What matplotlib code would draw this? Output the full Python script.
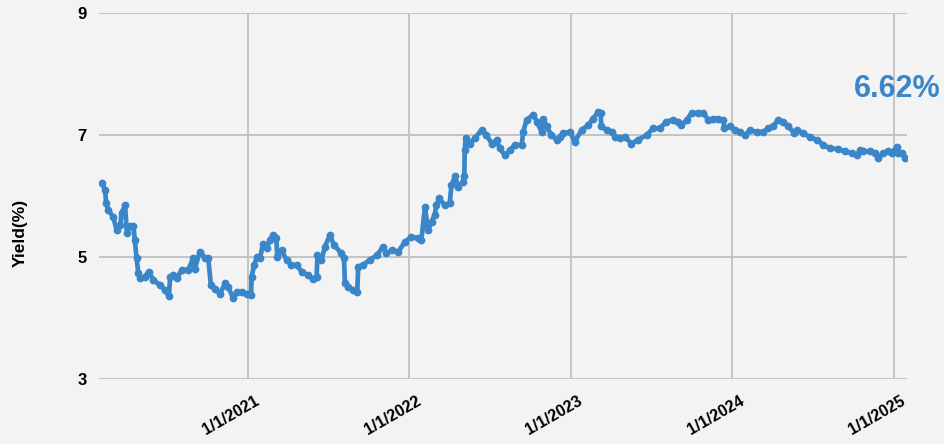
#import numpy and pandas to handle the data
import numpy as np
import pandas as pd

#import matplotlib to create plots
import matplotlib
matplotlib.use('Agg')
import matplotlib.pyplot as plt
import matplotlib.dates as mdates
import matplotlib.transforms as mtransforms

#yield readings (date, yield in %)
dates = [
    '2020-02-05', '2020-02-13', '2020-02-15', '2020-02-20', '2020-03-02', '2020-03-10',
    '2020-03-18', '2020-03-21', '2020-03-29', '2020-04-02', '2020-04-09', '2020-04-17',
    '2020-04-20', '2020-04-24', '2020-04-28', '2020-05-02', '2020-05-13', '2020-05-21',
    '2020-06-01', '2020-06-16', '2020-06-27', '2020-07-06', '2020-07-09', '2020-07-16',
    '2020-07-24', '2020-08-04', '2020-08-19', '2020-08-30', '2020-09-03', '2020-09-14',
    '2020-09-26', '2020-10-03', '2020-10-09', '2020-10-18', '2020-10-30', '2020-11-10',
    '2020-11-17', '2020-11-29', '2020-12-06', '2020-12-18', '2020-12-29',
    '2021-01-08', '2021-01-09', '2021-01-15', '2021-01-21', '2021-01-28', '2021-02-04',
    '2021-02-12', '2021-02-19', '2021-02-27', '2021-03-06', '2021-03-08', '2021-03-18',
    '2021-03-29', '2021-04-09', '2021-04-21', '2021-05-02', '2021-05-17', '2021-05-28',
    '2021-06-05', '2021-06-07', '2021-06-16', '2021-06-24', '2021-07-05', '2021-07-14',
    '2021-07-31', '2021-08-06', '2021-08-08', '2021-08-15', '2021-08-27', '2021-09-05',
    '2021-09-07', '2021-09-18', '2021-10-03', '2021-10-19', '2021-11-03', '2021-11-10',
    '2021-11-22', '2021-12-07', '2021-12-22',
    '2022-01-05', '2022-01-20', '2022-01-28', '2022-02-05', '2022-02-12', '2022-02-20',
    '2022-02-27', '2022-03-03', '2022-03-09', '2022-03-22', '2022-04-02', '2022-04-06',
    '2022-04-14', '2022-04-21', '2022-05-02', '2022-05-05', '2022-05-06', '2022-05-08',
    '2022-05-18', '2022-05-29', '2022-06-13', '2022-06-24', '2022-07-06', '2022-07-17',
    '2022-07-24', '2022-08-05', '2022-08-16', '2022-08-27', '2022-09-12', '2022-09-15',
    '2022-09-23', '2022-10-08', '2022-10-16', '2022-10-27', '2022-10-31', '2022-11-07',
    '2022-11-18', '2022-11-30', '2022-12-07', '2022-12-15', '2022-12-30',
    '2023-01-10', '2023-01-25', '2023-02-09', '2023-02-20', '2023-03-04', '2023-03-09',
    '2023-03-11', '2023-03-23', '2023-04-03', '2023-04-11', '2023-04-22', '2023-05-03',
    '2023-05-18', '2023-06-02', '2023-06-21', '2023-07-06', '2023-07-21', '2023-08-05',
    '2023-08-20', '2023-08-31', '2023-09-08', '2023-09-20', '2023-10-01', '2023-10-16',
    '2023-10-27', '2023-11-08', '2023-11-19', '2023-11-30', '2023-12-12', '2023-12-14',
    '2023-12-27',
    '2024-01-07', '2024-01-18', '2024-01-30', '2024-02-10', '2024-02-25', '2024-03-11',
    '2024-03-22', '2024-04-02', '2024-04-14', '2024-04-25', '2024-05-07', '2024-05-20',
    '2024-05-26', '2024-06-09', '2024-06-24', '2024-07-10', '2024-07-25', '2024-08-09',
    '2024-08-28', '2024-09-12', '2024-09-27', '2024-10-08', '2024-10-16', '2024-10-23',
    '2024-11-07', '2024-11-19', '2024-11-26', '2024-12-07', '2024-12-18', '2024-12-26',
    '2025-01-07', '2025-01-10', '2025-01-18', '2025-01-25',
]

yields = [
    6.21, 6.10, 5.88, 5.77, 5.66, 5.44,
    5.52, 5.72, 5.85, 5.39, 5.50, 5.50,
    5.28, 4.98, 4.73, 4.65, 4.68, 4.76,
    4.62, 4.54, 4.46, 4.36, 4.68, 4.70,
    4.65, 4.79, 4.79, 4.98, 4.81, 5.09,
    4.98, 4.98, 4.54, 4.48, 4.40, 4.57,
    4.51, 4.32, 4.43, 4.43, 4.40,
    4.38, 4.68, 4.87, 5.00, 4.98, 5.22,
    5.14, 5.28, 5.36, 5.31, 5.00, 5.11,
    4.95, 4.87, 4.87, 4.76, 4.70, 4.64,
    4.68, 5.03, 4.95, 5.17, 5.36, 5.20,
    5.06, 4.98, 4.57, 4.51, 4.46, 4.43,
    4.84, 4.87, 4.95, 5.03, 5.17, 5.06,
    5.11, 5.09, 5.25,
    5.33, 5.31, 5.28, 5.82, 5.44, 5.58,
    5.69, 5.85, 5.96, 5.85, 5.88, 6.18,
    6.32, 6.15, 6.23, 6.32, 6.75, 6.95,
    6.86, 6.95, 7.08, 7.00, 6.86, 6.92,
    6.78, 6.67, 6.75, 6.84, 6.84, 7.05,
    7.25, 7.33, 7.22, 7.05, 7.27, 7.14,
    7.00, 6.92, 6.97, 7.03, 7.05,
    6.89, 7.08, 7.16, 7.27, 7.38, 7.36,
    7.14, 7.08, 7.05, 6.97, 6.95, 6.97,
    6.86, 6.92, 7.00, 7.11, 7.11, 7.22,
    7.25, 7.22, 7.16, 7.25, 7.36, 7.36,
    7.36, 7.25, 7.27, 7.27, 7.25, 7.11,
    7.14,
    7.08, 7.05, 7.00, 7.08, 7.05, 7.05,
    7.11, 7.14, 7.25, 7.22, 7.14, 7.03,
    7.08, 7.03, 6.97, 6.92, 6.84, 6.78,
    6.77, 6.73, 6.70, 6.67, 6.75, 6.73,
    6.73, 6.70, 6.62, 6.70, 6.73, 6.70,
    6.81, 6.70, 6.70, 6.62,
]

#axis ticks and limits
year_ticks = ['2021-01-01', '2022-01-01', '2023-01-01', '2024-01-01', '2025-01-01']
y_ticks = [3, 5, 7, 9]
x_start, x_end = '2020-01-30', '2025-01-30'

blue = '#3a86c8'
bg = '#f3f3f3'

plt.rcParams['font.family'] = ['Liberation Sans', 'DejaVu Sans']

x = pd.to_datetime(dates)
ticks = pd.to_datetime(year_ticks)

fig = plt.figure(figsize=(9.45, 4.44), dpi=100, facecolor=bg)
ax = fig.add_axes([99/945, 1 - 379/444, 808/945, 366/444], facecolor=bg)

#the yield line with a dot on each reading
ax.plot(x, yields, color=blue, linewidth=3.4, marker='o', markersize=5.6,
        markeredgewidth=0, solid_joinstyle='round', solid_capstyle='round', zorder=3)

#limits and grid
ax.set_xlim(pd.Timestamp(x_start), pd.Timestamp(x_end))
ax.set_ylim(3, 9)
ax.set_yticks(y_ticks)
ax.set_yticklabels([str(v) for v in y_ticks], fontsize=12, fontweight='bold')
ax.set_xticks(ticks)
ax.set_xticklabels([f"{d.month}/{d.day}/{d.year}" for d in ticks],
                   fontsize=11.5, fontweight='bold', rotation=30, ha='right')
ax.grid(True, color='#c3c3c3', linewidth=1.4)
ax.set_axisbelow(True)
ax.tick_params(length=0, pad=9)
ax.tick_params(axis='x', pad=10)
for s in ax.spines.values():
    s.set_visible(False)

#nudge the date labels to the right a little
shift = mtransforms.ScaledTranslation(14/100, 0, fig.dpi_scale_trans)
for lab in ax.get_xticklabels():
    lab.set_transform(lab.get_transform() + shift)

#axes title
ax.set_ylabel('Yield(%)', fontsize=12.5, fontweight='bold')
ax.yaxis.set_label_coords(-0.088, 0.40)

#latest value callout
fig.text(941/945, 1 - 97/444, f"{yields[-1]:.2f}%", color=blue, fontsize=22,
         fontweight='bold', ha='right', va='baseline')

fig.savefig('out.png', dpi=100, facecolor=bg)
